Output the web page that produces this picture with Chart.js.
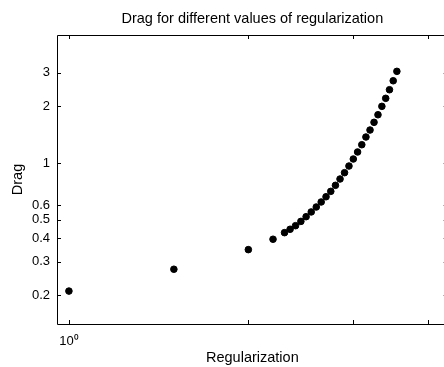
<!DOCTYPE html>
<html>
<head>
<meta charset="utf-8">
<script src="https://cdn.jsdelivr.net/npm/chart.js@4/dist/chart.umd.min.js"></script>
<style>
html,body{margin:0;padding:0;background:#fff;overflow:hidden;}
#wrap{width:444px;height:367px;overflow:hidden;}
</style>
</head>
<body>
<div id="wrap"><canvas id="c" width="452" height="367"></canvas></div>
<script>
// data
const regularization=[1,1.5,2,2.2,2.3,2.35,2.4,2.45,2.5,2.55,2.6,2.65,2.7,2.75,2.8,2.85,2.9,2.95,3.0,3.05,3.1,3.15,3.2,3.25,3.3,3.35,3.4,3.45,3.5,3.55];
const drag=[0.210,0.274,0.348,0.395,0.428,0.446,0.466,0.491,0.520,0.551,0.585,0.622,0.663,0.708,0.762,0.823,0.889,0.964,1.050,1.144,1.250,1.373,1.495,1.642,1.801,1.995,2.20,2.443,2.725,3.056];
const xTicks=[1,2,3,4];
const xTickLabels=["10\u2070","","",""];
const yTicks=[0.2,0.3,0.4,0.5,0.6,1,2,3];
const yTickLabels=["0.2","0.3","0.4","0.5","0.6","1","2","3"];

const FONT="'Liberation Sans', Arial, sans-serif";

// MATLAB style box with inward ticks
const boxTicks={
id:"boxTicks",
afterDatasetsDraw(chart){
const {ctx,chartArea:a,scales:{x,y}}=chart;
ctx.save();
ctx.strokeStyle="#000";
ctx.lineWidth=1;
ctx.beginPath();
ctx.rect(Math.round(a.left)+0.5,Math.round(a.top)+0.5,Math.round(a.right-a.left),Math.round(a.bottom-a.top));
xTicks.forEach(v=>{
const px=Math.round(x.getPixelForValue(v))+0.5;
ctx.moveTo(px,a.bottom);ctx.lineTo(px,a.bottom-4);
ctx.moveTo(px,a.top);ctx.lineTo(px,a.top+4);
});
yTicks.forEach(v=>{
const py=Math.round(y.getPixelForValue(v))+0.5;
ctx.moveTo(a.left,py);ctx.lineTo(a.left+4,py);
ctx.moveTo(a.right,py);ctx.lineTo(a.right-4,py);
});
ctx.stroke();
ctx.restore();
}
};

new Chart(document.getElementById("c"),{
type:"scatter",
data:{
datasets:[{
data:regularization.map((r,i)=>({x:r,y:drag[i]})),
backgroundColor:"#000",
borderColor:"#000",
pointRadius:3.3,
pointHoverRadius:3.3,
showLine:false
}]
},
options:{
responsive:false,
animation:false,
layout:{padding:{right:1}},
plugins:{
legend:{display:false},
tooltip:{enabled:false},
title:{
display:true,
fullSize:false,
text:"Drag for different values of regularization",
color:"#000",
font:{family:FONT,size:14.5,weight:"normal"},
padding:{top:10,bottom:7.6}
}
},
scales:{
x:{
type:"logarithmic",
min:0.955,max:4.32,
afterBuildTicks:s=>{s.ticks=xTicks.map(v=>({value:v}));},
afterFit:s=>{s.height=43;},
grid:{display:false,drawTicks:false},
border:{display:false},
ticks:{
autoSkip:false,maxRotation:0,padding:10,color:"#000",
font:{family:FONT,size:13},
callback:(v)=>{const i=xTicks.indexOf(v);return i>=0?xTickLabels[i]:"";}
},
title:{display:true,text:"Regularization",color:"#000",font:{family:FONT,size:14.5},padding:{bottom:0,top:0}}
},
y:{
type:"logarithmic",
min:0.1406,max:4.76,
afterBuildTicks:s=>{s.ticks=yTicks.map(v=>({value:v}));},
afterFit:s=>{s.width=57;},
grid:{display:false,drawTicks:false},
border:{display:false},
ticks:{
autoSkip:false,padding:7,color:"#000",
font:{family:FONT,size:13},
callback:(v)=>{const i=yTicks.indexOf(v);return i>=0?yTickLabels[i]:"";}
},
title:{display:true,text:"Drag",color:"#000",font:{family:FONT,size:14.5},padding:{top:9,bottom:0}}
}
}
},
plugins:[boxTicks]
});
</script>
</body>
</html>
